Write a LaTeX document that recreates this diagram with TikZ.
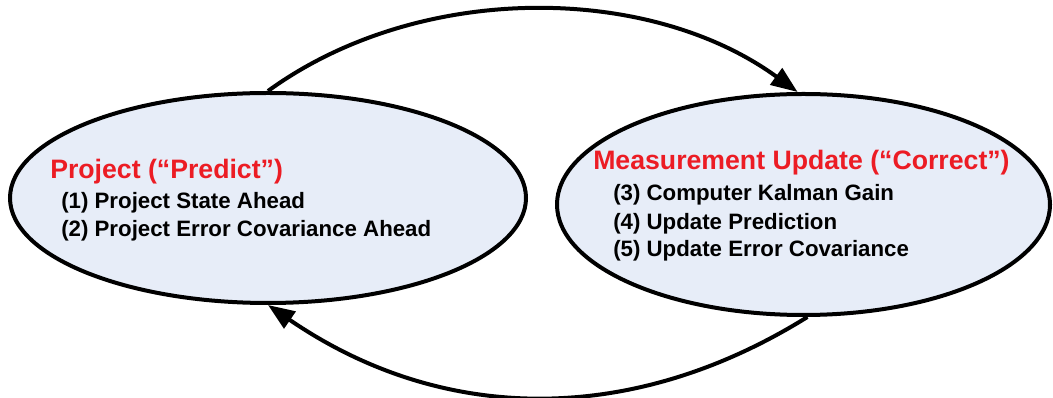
\documentclass[tikz,border=0pt]{standalone}
\usepackage{fontspec}
\setmainfont{Liberation Sans}
\usetikzlibrary{shapes.geometric,arrows.meta,calc}
\definecolor{ellfill}{HTML}{E7EDF8}
\definecolor{titlered}{HTML}{EC1C24}
\tikzset{
  stateell/.style={ellipse, draw=black, line width=3pt, fill=ellfill, inner sep=0pt},
  titletext/.style={anchor=base west, inner sep=0pt, text=titlered, font=\bfseries\fontsize{20}{24}\selectfont},
  itemtext/.style={anchor=base west, inner sep=0pt, text=black, font=\bfseries\fontsize{16.7}{20}\selectfont},
  flow/.style={line width=3pt, -{Triangle[length=20pt,width=15pt]}}
}
\begin{document}
\begin{tikzpicture}[x=0.75pt,y=-0.75pt]
\useasboundingbox (0,0) rectangle (1053,398);
\node[stateell, minimum width=516*0.75pt, minimum height=210*0.75pt] (L) at (268,198) {};
\node[stateell, minimum width=493*0.75pt, minimum height=221*0.75pt] (R) at (803.5,204.5) {};
\node[titletext] (lt) at (50,179) {Project (“Predict”)};
\node[itemtext] (l1) at (61,209) {(1) Project State Ahead};
\node[itemtext] (l2) at (61,237) {(2) Project Error Covariance Ahead};
\node[titletext] (rt) at (593,170) {Measurement Update (“Correct”)};
\node[itemtext] (r3) at (613,201) {(3) Computer Kalman Gain};
\node[itemtext] (r4) at (613,230) {(4) Update Prediction};
\node[itemtext] (r5) at (613,257) {(5) Update Error Covariance};
\draw[flow] (L.north) .. controls ($(L.north)+(150,-109)$) and ($(R.93)+(-150,-109)$) .. (R.93);
\draw[flow] (R.272) .. controls ($(R.272)+(-175,109)$) and ($(L.south)+(175,120)$) .. (L.south);
\end{tikzpicture}
\end{document}
